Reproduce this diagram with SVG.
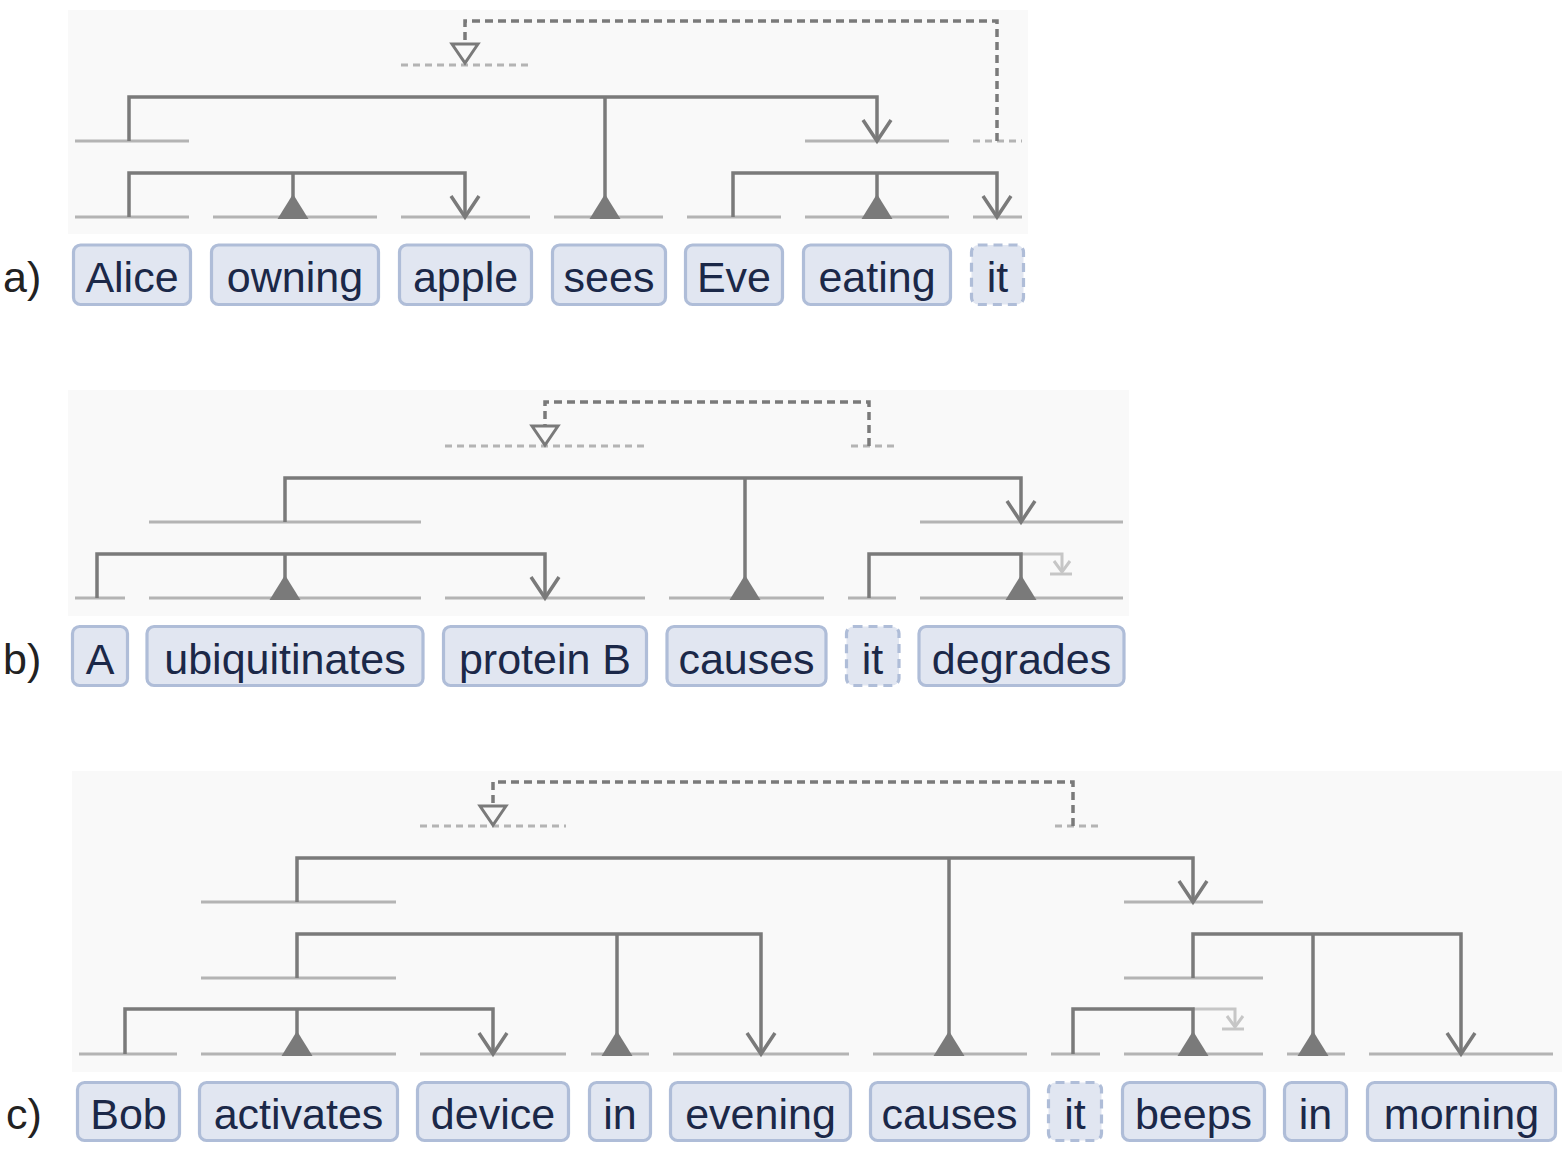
<svg xmlns="http://www.w3.org/2000/svg" width="1568" height="1154" viewBox="0 0 1568 1154">
<style>
.page{fill:#ffffff}
.bg{fill:#f9f9f9}
.base{stroke:#b4b4b4;stroke-width:3;fill:none}
.based{stroke:#b4b4b4;stroke-width:3;fill:none;stroke-dasharray:7 5}
.conn{stroke:#7a7a7a;stroke-width:3.5;fill:none}
.coref{stroke:#7a7a7a;stroke-width:3.5;fill:none;stroke-dasharray:8 5}
.faint{stroke:#c6c6c6;stroke-width:3;fill:none}
.box{fill:#e1e6f1;stroke:#afbdd8;stroke-width:3.2}
.boxd{fill:#e1e6f1;stroke:#afbdd8;stroke-width:3.2;stroke-dasharray:9 6}
.tok{font-family:"Liberation Sans",Arial,sans-serif;font-size:43px;fill:#1b2848;text-anchor:middle}
.lab{font-family:"Liberation Sans",Arial,sans-serif;font-size:43px;fill:#222222}
</style>
<defs>
<marker id="chev" markerUnits="userSpaceOnUse" orient="auto" refX="0" refY="0" markerWidth="40" markerHeight="40" viewBox="-30 -20 40 40" overflow="visible">
<path d="M-21,-14 L0,0 L-21,14" fill="none" stroke="#7a7a7a" stroke-width="3.5"/>
</marker>
<marker id="tri" markerUnits="userSpaceOnUse" orient="auto" refX="0" refY="0" markerWidth="40" markerHeight="40" viewBox="-30 -20 40 40" overflow="visible">
<path d="M-23,0 L2,-15.5 L2,15.5 Z" fill="#7a7a7a"/>
</marker>
<marker id="hollow" markerUnits="userSpaceOnUse" orient="auto" refX="0" refY="0" markerWidth="40" markerHeight="40" viewBox="-30 -20 40 40" overflow="visible">
<path d="M-19,-13 L0,0 L-19,13 Z" fill="#f9f9f9" stroke="#7a7a7a" stroke-width="3" stroke-dasharray="none"/>
</marker>
<marker id="small" markerUnits="userSpaceOnUse" orient="auto" refX="0" refY="0" markerWidth="20" markerHeight="20" viewBox="-15 -10 20 20" overflow="visible">
<path d="M-11,-8 L0,0 L-11,8" fill="none" stroke="#c6c6c6" stroke-width="3"/>
</marker>
</defs>
<rect class="page" x="0" y="0" width="1568" height="1154"/>

<g id="backgrounds">
<rect class="bg" x="68" y="10" width="960" height="224"/>
<rect class="bg" x="68" y="390" width="1061" height="226"/>
<rect class="bg" x="72" y="771" width="1490" height="301"/>
</g>

<g id="phrase-lines">
<path class="base" d="M75,217H189M213,217H377M401,217H530M554,217H663M687,217H781M805,217H949M973,217H1022"/>
<path class="base" d="M75,141H189M805,141H949"/>
<path class="based" d="M973,141H1022M401,65H530"/>
<path class="base" d="M75,598H125M149,598H421M445,598H645M669,598H824M848,598H896M920,598H1123"/>
<path class="base" d="M149,522H421M920,522H1123"/>
<path class="based" d="M445,446H645M851,446H896"/>
<path class="base" d="M79,1054H177M201,1054H396M420,1054H566M591,1054H649M673,1054H849M873,1054H1027M1051,1054H1100M1124,1054H1263M1287,1054H1345M1369,1054H1553"/>
<path class="base" d="M201,978H396M1124,978H1263M201,902H396M1124,902H1263"/>
<path class="based" d="M420,826H566M1055,826H1100"/>
</g>

<g id="connectors">
<path class="conn" d="M129,217V173H465V217" marker-end="url(#chev)"/>
<path class="conn" d="M293,173V217" marker-end="url(#tri)"/>
<path class="conn" d="M129,141V97H877V141" marker-end="url(#chev)"/>
<path class="conn" d="M605,97V217" marker-end="url(#tri)"/>
<path class="conn" d="M733,217V173H997V217" marker-end="url(#chev)"/>
<path class="conn" d="M877,173V217" marker-end="url(#tri)"/>
<path class="coref" d="M997,141V21H465V63" marker-end="url(#hollow)"/>
<path class="conn" d="M97,598V554H545V598" marker-end="url(#chev)"/>
<path class="conn" d="M285,554V598" marker-end="url(#tri)"/>
<path class="conn" d="M285,522V478H1021V522" marker-end="url(#chev)"/>
<path class="conn" d="M745,478V598" marker-end="url(#tri)"/>
<path class="faint" d="M1021,554H1062V572" marker-end="url(#small)"/>
<path class="faint" d="M1050,574H1072"/>
<path class="conn" d="M869,598V554H1021V598" marker-end="url(#tri)"/>
<path class="coref" d="M869,446V402H545V445" marker-end="url(#hollow)"/>
<path class="conn" d="M125,1054V1009H493V1054" marker-end="url(#chev)"/>
<path class="conn" d="M297,1009V1054" marker-end="url(#tri)"/>
<path class="conn" d="M297,978V934H761V1054" marker-end="url(#chev)"/>
<path class="conn" d="M617,934V1054" marker-end="url(#tri)"/>
<path class="conn" d="M297,902V858H1193V902" marker-end="url(#chev)"/>
<path class="conn" d="M949,858V1054" marker-end="url(#tri)"/>
<path class="faint" d="M1193,1009H1235V1027" marker-end="url(#small)"/>
<path class="faint" d="M1222,1029H1244"/>
<path class="conn" d="M1073,1054V1009H1193V1054" marker-end="url(#tri)"/>
<path class="conn" d="M1193,978V934H1461V1054" marker-end="url(#chev)"/>
<path class="conn" d="M1313,934V1054" marker-end="url(#tri)"/>
<path class="coref" d="M1073,826V782H493V825" marker-end="url(#hollow)"/>
</g>

<text class="lab" x="3" y="292">a)</text>
<text class="lab" x="3" y="674">b)</text>
<text class="lab" x="6" y="1129">c)</text>

<g id="a-Alice"><rect class="box" x="73.5" y="245" width="117" height="59.5" rx="7"/><text class="tok" x="132" y="292">Alice</text></g>
<g id="a-owning"><rect class="box" x="211.5" y="245" width="167" height="59.5" rx="7"/><text class="tok" x="295" y="292">owning</text></g>
<g id="a-apple"><rect class="box" x="399.5" y="245" width="132" height="59.5" rx="7"/><text class="tok" x="465.5" y="292">apple</text></g>
<g id="a-sees"><rect class="box" x="552.5" y="245" width="113" height="59.5" rx="7"/><text class="tok" x="609" y="292">sees</text></g>
<g id="a-Eve"><rect class="box" x="685.5" y="245" width="97" height="59.5" rx="7"/><text class="tok" x="734" y="292">Eve</text></g>
<g id="a-eating"><rect class="box" x="803.5" y="245" width="147" height="59.5" rx="7"/><text class="tok" x="877" y="292">eating</text></g>
<g id="a-it"><rect class="boxd" x="971.5" y="245" width="52" height="59.5" rx="7"/><text class="tok" x="997.5" y="292">it</text></g>

<g id="b-A"><rect class="box" x="72.5" y="626.5" width="55" height="59" rx="7"/><text class="tok" x="100" y="674">A</text></g>
<g id="b-ubiquitinates"><rect class="box" x="147" y="626.5" width="276" height="59" rx="7"/><text class="tok" x="285" y="674">ubiquitinates</text></g>
<g id="b-proteinB"><rect class="box" x="443.5" y="626.5" width="203" height="59" rx="7"/><text class="tok" x="545" y="674">protein B</text></g>
<g id="b-causes"><rect class="box" x="667" y="626.5" width="159" height="59" rx="7"/><text class="tok" x="746.5" y="674">causes</text></g>
<g id="b-it"><rect class="boxd" x="846.5" y="626.5" width="52.5" height="59" rx="7"/><text class="tok" x="872.5" y="674">it</text></g>
<g id="b-degrades"><rect class="box" x="919" y="626.5" width="205" height="59" rx="7"/><text class="tok" x="1021.5" y="674">degrades</text></g>

<g id="c-Bob"><rect class="box" x="77.5" y="1082.5" width="102" height="58" rx="7"/><text class="tok" x="128.5" y="1129">Bob</text></g>
<g id="c-activates"><rect class="box" x="199.5" y="1082.5" width="198" height="58" rx="7"/><text class="tok" x="298.5" y="1129">activates</text></g>
<g id="c-device"><rect class="box" x="417.5" y="1082.5" width="151" height="58" rx="7"/><text class="tok" x="493" y="1129">device</text></g>
<g id="c-in1"><rect class="box" x="589.5" y="1082.5" width="61" height="58" rx="7"/><text class="tok" x="620" y="1129">in</text></g>
<g id="c-evening"><rect class="box" x="670.5" y="1082.5" width="180" height="58" rx="7"/><text class="tok" x="760.5" y="1129">evening</text></g>
<g id="c-causes"><rect class="box" x="870.5" y="1082.5" width="158" height="58" rx="7"/><text class="tok" x="949.5" y="1129">causes</text></g>
<g id="c-it"><rect class="boxd" x="1048.5" y="1082.5" width="53" height="58" rx="7"/><text class="tok" x="1075" y="1129">it</text></g>
<g id="c-beeps"><rect class="box" x="1122.5" y="1082.5" width="142" height="58" rx="7"/><text class="tok" x="1193.5" y="1129">beeps</text></g>
<g id="c-in2"><rect class="box" x="1284.5" y="1082.5" width="62" height="58" rx="7"/><text class="tok" x="1315.5" y="1129">in</text></g>
<g id="c-morning"><rect class="box" x="1367.5" y="1082.5" width="188" height="58" rx="7"/><text class="tok" x="1461.5" y="1129">morning</text></g>
</svg>
